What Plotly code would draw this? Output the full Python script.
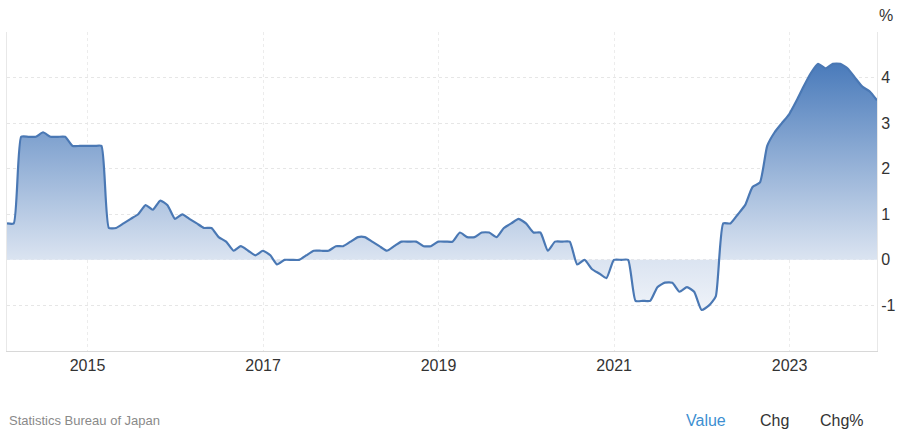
import pandas as pd
import plotly.graph_objects as go

# Monthly readings (% yoy), Jan..Dec per year
v2014 = [0.8, 0.8, 2.7, 2.7, 2.7, 2.8, 2.7, 2.7, 2.7, 2.5, 2.5, 2.5]
v2015 = [2.5, 2.5, 0.7, 0.7, 0.8, 0.9, 1.0, 1.2, 1.1, 1.3, 1.2, 0.9]
v2016 = [1.0, 0.9, 0.8, 0.7, 0.7, 0.5, 0.4, 0.2, 0.3, 0.2, 0.1, 0.2]
v2017 = [0.1, -0.1, 0.0, 0.0, 0.0, 0.1, 0.2, 0.2, 0.2, 0.3, 0.3, 0.4]
v2018 = [0.5, 0.5, 0.4, 0.3, 0.2, 0.3, 0.4, 0.4, 0.4, 0.3, 0.3, 0.4]
v2019 = [0.4, 0.4, 0.6, 0.5, 0.5, 0.6, 0.6, 0.5, 0.7, 0.8, 0.9, 0.8]
v2020 = [0.6, 0.6, 0.2, 0.4, 0.4, 0.4, -0.1, 0.0, -0.2, -0.3, -0.4, 0.0]
v2021 = [0.0, 0.0, -0.9, -0.9, -0.9, -0.6, -0.5, -0.5, -0.7, -0.6, -0.7, -1.1]
v2022 = [-1.0, -0.8, 0.8, 0.8, 1.0, 1.2, 1.6, 1.7, 2.5, 2.8, 3.0, 3.2]
v2023 = [3.5, 3.8, 4.1, 4.3, 4.2, 4.3, 4.3, 4.2, 4.0, 3.8, 3.7, 3.5]

values = v2014 + v2015 + v2016 + v2017 + v2018 + v2019 + v2020 + v2021 + v2022 + v2023
dates = pd.date_range('2014-01-01', periods=len(values), freq='MS') + pd.offsets.MonthEnd(0)

x_ticks = ['2015-01-01', '2017-01-01', '2019-01-01', '2021-01-01', '2023-01-01']
x_labels = ['2015', '2017', '2019', '2021', '2023']
y_ticks = [-1, 0, 1, 2, 3, 4]
y_labels = ['-1', '0', '1', '2', '3', '4']

fig = go.Figure()
fig.add_trace(go.Scatter(
    x=dates, y=values, mode='lines',
    line=dict(color='#4a78b4', width=2.2, shape='spline', smoothing=0.5),
    fill='tozeroy',
    fillgradient=dict(type='vertical', start=-2, stop=4.3,
                      colorscale=[[0, '#ffffff'], [0.317, '#dbe4f1'], [1, '#4a7bbb']]),
    hoverinfo='skip', showlegend=False,
))

fig.update_layout(
    width=900, height=440,
    margin=dict(l=7, r=23, t=32, b=89, autoexpand=False),
    paper_bgcolor='white', plot_bgcolor='white',
    font=dict(family='Liberation Sans, Arial, sans-serif', size=16, color='#333333'),
    xaxis=dict(range=['2014-01-31', '2023-12-31'], tickvals=x_ticks, ticktext=x_labels,
               showgrid=True, gridcolor='#ececec', griddash='dot', automargin=False,
               showline=True, linecolor='#d8d8d8', linewidth=1,
               ticks='', zeroline=False, tickfont=dict(size=16, color='#333333')),
    yaxis=dict(range=[-2, 5], tickvals=y_ticks, ticktext=y_labels, side='right',
               showgrid=True, gridcolor='#e6e6e6', griddash='dot', automargin=False,
               showline=True, mirror=True, linecolor='#e8e8e8', linewidth=1,
               ticks='', zeroline=False, tickfont=dict(size=16, color='#333333')),
)

fig.add_annotation(text='%', xref='paper', yref='paper', x=1, xanchor='left', xshift=0,
                   y=1.053, yanchor='middle', showarrow=False,
                   font=dict(size=16, color='#333333'))

fig.add_annotation(text='Statistics Bureau of Japan', xref='paper', yref='paper',
                   x=0, xanchor='left', xshift=0, y=-0.219, yanchor='middle',
                   showarrow=False, font=dict(size=13, color='#8a8a8a'))
fig.add_annotation(text='Value', xref='paper', yref='paper', x=0.7805, xanchor='left',
                   xshift=-2, y=-0.219, yanchor='middle', showarrow=False,
                   font=dict(size=16, color='#3d8fd1'))
fig.add_annotation(text='Chg', xref='paper', yref='paper', x=0.8655, xanchor='left',
                   xshift=-2, y=-0.219, yanchor='middle', showarrow=False,
                   font=dict(size=16, color='#333333'))
fig.add_annotation(text='Chg%', xref='paper', yref='paper', x=0.9345, xanchor='left',
                   xshift=-2, y=-0.219, yanchor='middle', showarrow=False,
                   font=dict(size=16, color='#333333'))

# page body has a default 8px margin; drop it so the figure sits at the window corner
fig.write_html("out.html", config={'displayModeBar': False},
               post_script="document.body.style.margin='0';")
